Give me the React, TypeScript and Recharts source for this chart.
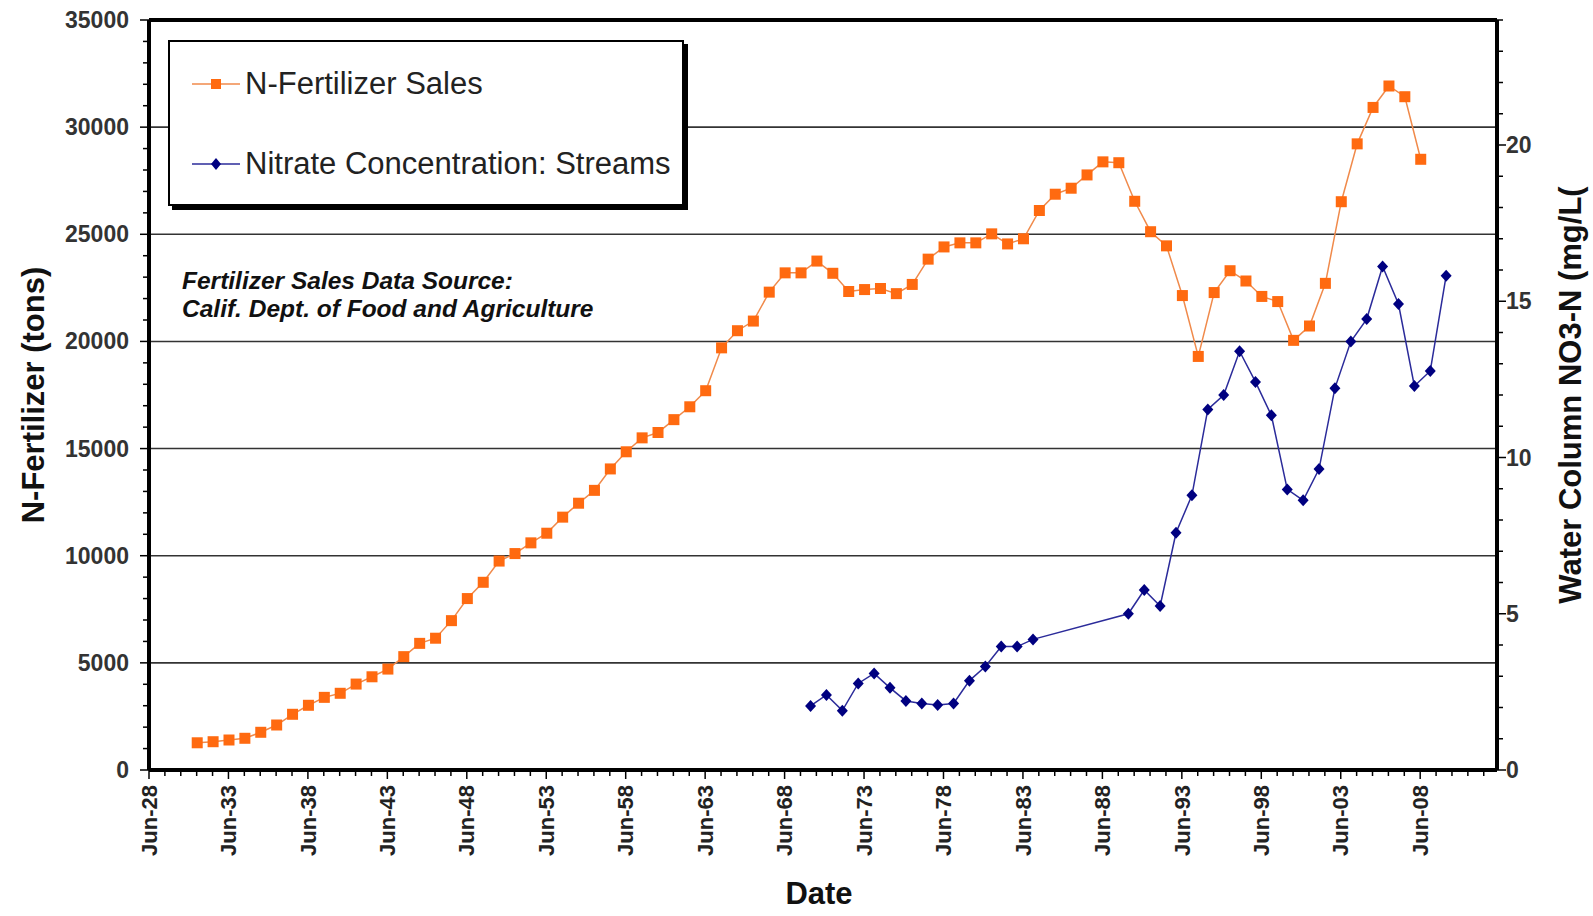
import { LineChart, Line, XAxis, YAxis, ReferenceLine, Legend } from 'recharts'

// N-fertilizer sales (tons), one value per year
const fertYears = [
  1931, 1932, 1933, 1934, 1935, 1936, 1937, 1938, 1939, 1940,
  1941, 1942, 1943, 1944, 1945, 1946, 1947, 1948, 1949, 1950,
  1951, 1952, 1953, 1954, 1955, 1956, 1957, 1958, 1959, 1960,
  1961, 1962, 1963, 1964, 1965, 1966, 1967, 1968, 1969, 1970,
  1971, 1972, 1973, 1974, 1975, 1976, 1977, 1978, 1979, 1980,
  1981, 1982, 1983, 1984, 1985, 1986, 1987, 1988, 1989, 1990,
  1991, 1992, 1993, 1994, 1995, 1996, 1997, 1998, 1999, 2000,
  2001, 2002, 2003, 2004, 2005, 2006, 2007, 2008,
]
const fertTons = [
  1270, 1320, 1400, 1480, 1760, 2100, 2600, 3020, 3390, 3580,
  4010, 4350, 4710, 5290, 5910, 6150, 6970, 8000, 8760, 9750,
  10100, 10600, 11050, 11800, 12450, 13050, 14050, 14850, 15500, 15750,
  16350, 16950, 17700, 19700, 20500, 20950, 22300, 23200, 23200, 23750,
  23180, 22330, 22420, 22470, 22230, 22660, 23840, 24410, 24600, 24600,
  25020, 24550, 24790, 26110, 26870, 27150, 27770, 28380, 28340, 26540,
  25120, 24460, 22140, 19300, 22280, 23300, 22820, 22100, 21860, 20050,
  20720, 22710, 26520, 29220, 30920, 31920, 31420, 28500,
]

// nitrate concentration in streams (mg/L NO3-N)
const nitrateYears = [
  1970, 1971, 1972, 1973, 1974, 1975, 1976, 1977, 1978, 1979,
  1980, 1981, 1982, 1983, 1984, 1990, 1991, 1992, 1993, 1994,
  1995, 1996, 1997, 1998, 1999, 2000, 2001, 2002, 2003, 2004,
  2005, 2006, 2007, 2008, 2009, 2010,
]
const nitrateMgL = [
  2.05, 2.4, 1.9, 2.77, 3.09, 2.63, 2.21, 2.13, 2.08, 2.13,
  2.86, 3.31, 3.95, 3.95, 4.18, 5.0, 5.76, 5.25, 7.59, 8.79,
  11.54, 12.0, 13.4, 12.42, 11.35, 8.98, 8.63, 9.63, 12.22, 13.71,
  14.43, 16.11, 14.91, 12.29, 12.77, 15.82,
]

const dateTickYears = [1928, 1933, 1938, 1943, 1948, 1953, 1958, 1963, 1968, 1973, 1978, 1983, 1988, 1993, 1998, 2003, 2008]
const dateTickLabels = ['Jun-28', 'Jun-33', 'Jun-38', 'Jun-43', 'Jun-48', 'Jun-53', 'Jun-58', 'Jun-63', 'Jun-68', 'Jun-73', 'Jun-78', 'Jun-83', 'Jun-88', 'Jun-93', 'Jun-98', 'Jun-03', 'Jun-08']
const tonsTicks = [0, 5000, 10000, 15000, 20000, 25000, 30000, 35000]
const mgLTicks = [0, 5, 10, 15, 20]

const JUNE = 0.416
const X_MIN = 1928 + JUNE
const X_MAX = 2013.25
const FONT = '"Liberation Sans", Arial, sans-serif'
const ORANGE = '#FF6A10'
const NAVY = '#000080'

const fertData = fertYears.map((y, i) => ({ x: y + 0.45, tons: fertTons[i] }))
const nitrateData = nitrateYears.map((y, i) => ({ x: y + 0.05, mgl: nitrateMgL[i] }))

// every year gets a minor tick, the labelled ones get a longer one
const yearTicks: number[] = []
for (let y = 1928; y + JUNE <= X_MAX; y++) yearTicks.push(y + JUNE)
const tonsMinor: number[] = []
for (let v = 0; v <= 35000; v += 1000) tonsMinor.push(v)
const mgLMinor: number[] = []
for (let v = 0; v <= 24; v++) mgLMinor.push(v)

const DateTick = (props: any) => {
  const { x, y, payload } = props
  const idx = dateTickYears.indexOf(Math.round(payload.value - JUNE))
  const major = idx >= 0
  return (
    <g>
      <line x1={x} x2={x} y1={y} y2={y + (major ? 9 : 6)} stroke='#000' strokeWidth={1.5} />
      {major && (
        <text
          x={x}
          y={y + 15}
          dy='0.35em'
          textAnchor='end'
          transform={`rotate(-90, ${x}, ${y + 15})`}
          fontFamily={FONT}
          fontSize={22}
          fontWeight='bold'
          fill='#222'
        >
          {dateTickLabels[idx]}
        </text>
      )}
    </g>
  )
}

const TonsTick = (props: any) => {
  const { x, y, payload } = props
  const major = tonsTicks.includes(payload.value)
  return (
    <g>
      <line x1={x} x2={x - (major ? 9 : 6)} y1={y} y2={y} stroke='#000' strokeWidth={1.5} />
      {major && (
        <text x={x - 20} y={y} dy='0.35em' textAnchor='end' fontFamily={FONT} fontSize={23} fontWeight='bold' fill='#333'>
          {payload.value}
        </text>
      )}
    </g>
  )
}

const MgLTick = (props: any) => {
  const { x, y, payload } = props
  const major = mgLTicks.includes(payload.value)
  return (
    <g>
      <line x1={x} x2={x + (major ? 9 : 6)} y1={y} y2={y} stroke='#000' strokeWidth={1.5} />
      {major && (
        <text x={x + 9} y={y} dy='0.35em' textAnchor='start' fontFamily={FONT} fontSize={23} fontWeight='bold' fill='#333'>
          {payload.value}
        </text>
      )}
    </g>
  )
}

const SquareDot = (props: any) => {
  const { cx, cy } = props
  if (cx == null || cy == null) return <g />
  return <rect x={cx - 5.5} y={cy - 5.5} width={11} height={11} fill={ORANGE} />
}

const DiamondDot = (props: any) => {
  const { cx, cy } = props
  if (cx == null || cy == null) return <g />
  return <polygon points={`${cx},${cy - 6} ${cx + 5.5},${cy} ${cx},${cy + 6} ${cx - 5.5},${cy}`} fill={NAVY} />
}

const LegendBox = () => {
  const rows = [
    { label: 'N-Fertilizer Sales', color: '#F08A4B', marker: 'square' },
    { label: 'Nitrate Concentration: Streams', color: '#2B2B9A', marker: 'diamond' },
  ]
  return (
    <div
      style={{
        width: 516,
        height: 166,
        boxSizing: 'border-box',
        border: '2px solid #000',
        boxShadow: '4px 4px 0 #000',
        background: '#fff',
        position: 'relative',
        fontFamily: FONT,
      }}
    >
      {rows.map((r, i) => (
        <div
          key={r.label}
          style={{ position: 'absolute', left: 22, top: 42 + i * 80 - 18, height: 36, display: 'flex', alignItems: 'center' }}
        >
          <svg width={50} height={20}>
            <line x1={0} x2={48} y1={10} y2={10} stroke={r.color} strokeWidth={1.5} />
            {r.marker === 'square' ? (
              <rect x={19} y={5} width={10} height={10} fill={ORANGE} />
            ) : (
              <polygon points='24,4 29,10 24,16 19,10' fill={NAVY} />
            )}
          </svg>
          <span style={{ fontSize: 31, color: '#222', marginLeft: 3, whiteSpace: 'nowrap' }}>{r.label}</span>
        </div>
      ))}
    </div>
  )
}

const App = () => {
  return (
    <div style={{ position: 'absolute', left: 0, top: 0, width: 1593, height: 916, background: '#fff' }}>
      <LineChart width={1593} height={916} margin={{ top: 20, right: 0, bottom: 0, left: 0 }}>
        <XAxis
          dataKey='x'
          type='number'
          domain={[X_MIN, X_MAX]}
          ticks={yearTicks}
          interval={0}
          allowDataOverflow
          height={146}
          tickSize={0}
          tickMargin={0}
          tickLine={false}
          tick={<DateTick />}
          axisLine={{ stroke: '#000', strokeWidth: 4 }}
        />
        <YAxis
          yAxisId='left'
          type='number'
          domain={[0, 35000]}
          ticks={tonsMinor}
          interval={0}
          width={149}
          tickSize={0}
          tickMargin={0}
          tickLine={false}
          tick={<TonsTick />}
          axisLine={{ stroke: '#000', strokeWidth: 4 }}
        />
        <YAxis
          yAxisId='right'
          orientation='right'
          type='number'
          domain={[0, 24]}
          ticks={mgLMinor}
          interval={0}
          width={96}
          tickSize={0}
          tickMargin={0}
          tickLine={false}
          tick={<MgLTick />}
          axisLine={{ stroke: '#000', strokeWidth: 4 }}
        />

        {tonsTicks.slice(1, -1).map((v) => (
          <ReferenceLine key={v} yAxisId='left' y={v} stroke='#333' strokeWidth={1.6} />
        ))}
        <ReferenceLine yAxisId='left' y={35000} stroke='#000' strokeWidth={4} />

        <Legend
          layout='vertical'
          align='center'
          verticalAlign='middle'
          content={<LegendBox />}
          wrapperStyle={{ left: 168, top: 40, width: 522, height: 172 }}
        />

        <Line
          yAxisId='left'
          data={fertData}
          dataKey='tons'
          name='N-Fertilizer Sales'
          stroke='#F08A4B'
          strokeWidth={1.5}
          dot={<SquareDot />}
          activeDot={false}
          isAnimationActive={false}
        />
        <Line
          yAxisId='right'
          data={nitrateData}
          dataKey='mgl'
          name='Nitrate Concentration: Streams'
          stroke='#2B2B9A'
          strokeWidth={1.5}
          dot={<DiamondDot />}
          activeDot={false}
          isAnimationActive={false}
        />
      </LineChart>

      {/* axis titles and source note */}
      <svg width={1593} height={916} style={{ position: 'absolute', left: 0, top: 0, pointerEvents: 'none' }}>
        <text
          x={33}
          y={395}
          dy='0.35em'
          textAnchor='middle'
          transform='rotate(-90, 33, 395)'
          fontFamily={FONT}
          fontSize={31}
          fontWeight='bold'
          fill='#111'
        >
          N-Fertilizer (tons)
        </text>
        <text
          x={1570}
          y={395}
          dy='0.35em'
          textAnchor='middle'
          transform='rotate(-90, 1570, 395)'
          fontFamily={FONT}
          fontSize={31}
          fontWeight='bold'
          fill='#111'
        >
          Water Column NO3-N (mg/L(
        </text>
        <text x={819} y={893} dy='0.35em' textAnchor='middle' fontFamily={FONT} fontSize={31} fontWeight='bold' fill='#111'>
          Date
        </text>
        <text x={182} y={280} dy='0.35em' fontFamily={FONT} fontSize={24.5} fontWeight='bold' fontStyle='italic' fill='#111'>
          Fertilizer Sales Data Source:
        </text>
        <text x={182} y={308} dy='0.35em' fontFamily={FONT} fontSize={24.5} fontWeight='bold' fontStyle='italic' fill='#111'>
          Calif. Dept. of Food and Agriculture
        </text>
      </svg>
    </div>
  )
}

export default App
